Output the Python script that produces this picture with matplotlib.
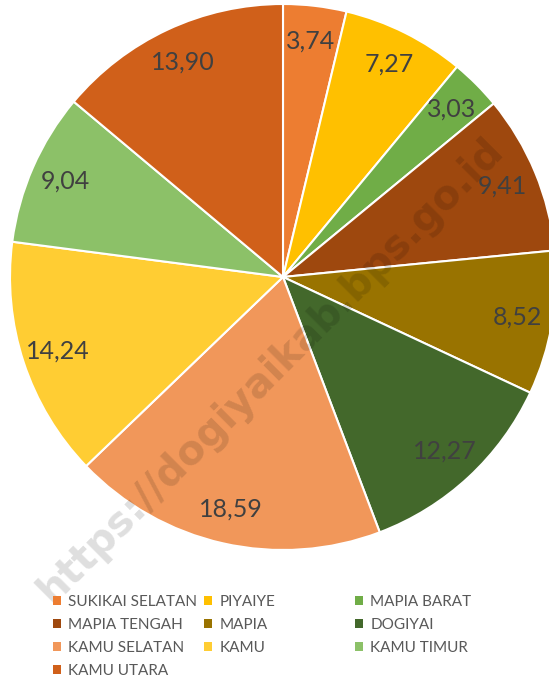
import matplotlib
matplotlib.use('Agg')
import matplotlib.pyplot as plt
from matplotlib.patches import Patch

plt.rcParams['font.family'] = ['Lato', 'DejaVu Sans']

# share per distrik (%)
districts = ['SUKIKAI SELATAN', 'PIYAIYE', 'MAPIA BARAT', 'MAPIA TENGAH', 'MAPIA',
             'DOGIYAI', 'KAMU SELATAN', 'KAMU', 'KAMU TIMUR', 'KAMU UTARA']
values = [3.74, 7.27, 3.03, 9.41, 8.52, 12.27, 18.59, 14.24, 9.04, 13.90]
colors = ['#ED7D31', '#FFC000', '#70AD47', '#9E480E', '#997300',
          '#43682B', '#F1975A', '#FFCD33', '#8CC168', '#D0601A']

total = sum(values)

fig = plt.figure(figsize=(5.49, 6.77), dpi=100)
ax = fig.add_axes([10 / 549, 127 / 677, 546 / 549, 546 / 677])

wedges, texts, autotexts = ax.pie(
    values, colors=colors, startangle=90, counterclock=False,
    radius=1.0, pctdistance=0.87,
    autopct=lambda p: f'{p * total / 100:.2f}'.replace('.', ','),
    wedgeprops=dict(edgecolor='white', linewidth=1.5),
    textprops=dict(color='#404040', fontsize=18))
ax.set_xlim(-1, 1)
ax.set_ylim(-1, 1)
ax.set_aspect('equal')
ax.axis('off')

# legend: three equal-width columns
cols_x = [53 / 549, 204 / 549, 355 / 549]
for c in range(3):
    idx = list(range(c, len(districts), 3))
    handles = [Patch(facecolor=colors[i], edgecolor='none') for i in idx]
    labs = [districts[i] for i in idx]
    fig.legend(handles, labs, loc='upper left',
               bbox_to_anchor=(cols_x[c], 1 - 595 / 677),
               frameon=False, fontsize=11, labelcolor='#595959',
               handlelength=0.55, handleheight=0.55, handletextpad=0.45,
               labelspacing=0.58, borderpad=0, borderaxespad=0)

# watermark
fig.text(271 / 549, 1 - 370 / 677, 'https://dogiyaikab.bps.go.id',
         rotation=45, ha='center', va='center', fontsize=29,
         fontweight='bold', color='black', alpha=0.13,
         family=['DejaVu Sans'])

fig.savefig('out.png', dpi=100)
